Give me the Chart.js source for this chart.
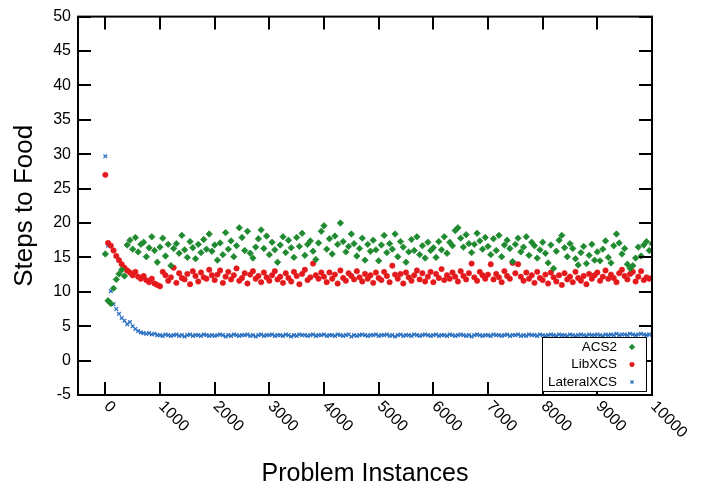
<!DOCTYPE html>
<html>
<head>
<meta charset="utf-8">
<script src="https://cdn.jsdelivr.net/npm/chart.js@4.4.1/dist/chart.umd.min.js"></script>
<style>
  html, body { margin: 0; padding: 0; background: #fff; }
  #wrap { width: 715px; height: 491px; }
</style>
</head>
<body>
<div id="wrap"><canvas id="steps-chart" width="715" height="491"></canvas></div>
<script>
// One sample every 50 problem instances, starting at 0
const STEP = 50;

const acs2 = [
  15.5, 8.7, 8.3, 10.5, 11.8, 12.6, 13.2, 12.3, 16.8, 17.5, 16.2, 17.9, 15.8, 16.9, 17.2, 15.1, 16.4, 18.0, 16.0, 14.3,
  16.5, 17.8, 15.2, 16.9, 13.8, 16.3, 17.0, 15.6, 18.2, 16.1, 15.0, 17.3, 16.4, 14.8, 16.9, 15.7, 17.6, 16.2, 18.4, 15.9,
  16.8, 14.6, 17.1, 15.4, 18.6, 16.2, 17.4, 15.1, 16.7, 19.3, 17.9, 16.0, 18.8, 15.6, 14.9, 16.5, 17.7, 19.0, 16.3, 18.1,
  15.4, 17.2, 16.1, 14.3, 16.8, 18.0, 15.7, 17.5, 16.4, 15.0, 17.9, 16.6, 18.5, 15.3, 16.9, 17.4, 15.9, 14.7, 17.1, 18.8,
  19.6, 16.2, 17.7, 15.5, 18.1, 16.9, 20.0, 17.3, 15.8, 16.6, 18.4, 17.0, 15.2, 16.3, 17.8, 14.6, 16.9, 15.9, 17.5, 16.1,
  14.5, 16.8, 18.2, 15.7, 17.0, 16.2, 18.4, 15.1, 17.3, 16.5, 14.3, 15.8, 17.6, 16.0, 18.0, 15.4, 16.7, 14.9, 17.2, 16.0,
  16.4, 15.0, 17.3, 16.1, 18.0, 15.6, 17.2, 16.7, 18.9, 19.3, 17.8, 16.5, 18.3, 17.0, 15.7, 16.9, 18.5, 17.4, 16.2, 17.9,
  16.6, 15.4, 17.7, 16.0, 18.2, 15.1, 16.8, 17.5, 16.3, 14.4, 16.9, 17.8, 15.8, 16.5, 18.0, 15.3, 17.2, 16.7, 14.9, 16.1,
  17.2, 15.6, 14.2, 16.8, 13.4, 15.9, 17.5, 18.2, 16.4, 15.1, 17.0, 16.3, 14.8, 13.9, 15.7, 16.6, 14.1, 15.3, 16.9, 14.6,
  15.8, 14.5, 16.2, 17.4, 15.0, 14.2, 16.7, 18.4, 17.1, 15.5, 16.3, 14.0, 13.4, 13.8, 14.9, 16.5, 15.2, 16.8, 17.3, 16.0,
  17.0
];

const libXcs = [
  27.0, 17.1, 16.7, 16.0, 15.2, 14.6, 14.0, 13.5, 13.1, 12.8, 12.4, 12.9, 12.2, 11.9, 12.3, 11.7, 11.4, 11.9, 11.2, 11.0,
  10.8, 12.9, 12.4, 11.6, 12.1, 13.5, 11.3, 12.7, 12.0, 11.8, 12.6, 11.1, 13.0, 12.3, 11.5, 12.8, 12.1, 11.9, 13.2, 12.4,
  11.7, 12.5, 13.1, 11.3, 12.2, 12.9, 11.8, 12.4, 13.4, 11.6, 12.0, 12.7, 11.2, 12.5, 13.0, 11.9, 12.3, 11.4, 12.8, 12.1,
  11.6, 12.4, 13.0, 11.8, 12.2, 11.3, 12.7, 12.0, 11.5, 12.9, 12.3, 11.1, 12.6, 13.2, 11.7, 12.1, 14.1, 12.4, 11.9, 12.8,
  12.2, 11.4, 12.8, 11.9, 12.5, 11.2, 13.1, 12.0, 11.6, 12.7, 12.3, 11.8, 13.0, 12.1, 11.5, 12.6, 11.9, 12.4, 11.3, 12.8,
  12.0, 11.7, 12.9, 12.3, 11.4, 13.8, 12.5, 11.9, 12.6, 11.2, 12.8, 12.1, 11.6, 12.4, 13.1, 11.8, 12.7, 11.5, 12.2, 12.9,
  11.4, 12.6, 12.0, 13.3, 11.7, 12.4, 11.9, 12.8, 12.2, 11.5, 13.0, 12.3, 11.8, 12.7, 14.1, 12.1, 11.6, 12.9, 12.4, 11.9,
  12.5, 14.0, 11.8, 12.6, 12.1, 11.4, 13.0, 12.3, 11.9, 14.2, 12.7, 14.0, 12.2, 11.6, 12.8, 11.9, 12.4, 11.3, 12.9, 12.0,
  11.7, 12.5, 11.2, 12.8, 12.1, 11.5, 12.4, 11.0, 12.7, 11.8, 12.2, 11.4, 12.9, 12.0, 11.6, 12.3, 11.1, 12.6, 11.9, 12.4,
  12.8, 11.6, 12.2, 13.1, 11.9, 12.5, 12.0, 11.4, 12.7, 13.2, 12.3, 11.8, 12.6, 12.9, 11.5, 12.2, 13.0, 11.7, 12.1, 11.9,
  12.0
];

const lateralXcs = [
  29.7, 16.7, 10.1, 8.2, 7.5, 6.8, 6.2, 5.8, 5.3, 5.6, 5.0, 4.6, 4.3, 4.1, 4.0, 3.9, 4.0, 3.8, 3.9, 3.7,
  3.7, 3.6, 3.8, 3.7, 3.6, 3.7, 3.8, 3.6, 3.7, 3.5, 3.7, 3.8, 3.6, 3.7, 3.7, 3.6, 3.8, 3.7, 3.6, 3.7,
  3.6, 3.7, 3.8, 3.7, 3.5, 3.7, 3.6, 3.8, 3.7, 3.6, 3.7, 3.7, 3.8, 3.6, 3.7, 3.5, 3.7, 3.8, 3.6, 3.7,
  3.7, 3.8, 3.6, 3.7, 3.7, 3.6, 3.8, 3.7, 3.5, 3.7, 3.6, 3.8, 3.7, 3.7, 3.6, 3.7, 3.8, 3.6, 3.7, 3.7,
  3.8, 3.6, 3.7, 3.7, 3.6, 3.8, 3.7, 3.6, 3.7, 3.8, 3.5, 3.7, 3.6, 3.7, 3.8, 3.7, 3.6, 3.7, 3.7, 3.8,
  3.6, 3.7, 3.7, 3.8, 3.6, 3.7, 3.5, 3.7, 3.8, 3.6, 3.7, 3.7, 3.6, 3.8, 3.7, 3.6, 3.7, 3.8, 3.7, 3.6,
  3.7, 3.8, 3.6, 3.7, 3.7, 3.6, 3.8, 3.7, 3.6, 3.7, 3.8, 3.7, 3.6, 3.7, 3.5, 3.7, 3.8, 3.7, 3.6, 3.7,
  3.7, 3.6, 3.8, 3.7, 3.7, 3.6, 3.7, 3.8, 3.6, 3.7, 3.7, 3.8, 3.6, 3.7, 3.6, 3.8, 3.7, 3.7, 3.6, 3.8,
  3.7, 3.6, 3.7, 3.8, 3.7, 3.6, 3.8, 3.7, 3.7, 3.6, 3.8, 3.7, 3.6, 3.7, 3.8, 3.7, 3.6, 3.8, 3.7, 3.7,
  3.8, 3.7, 3.6, 3.8, 3.7, 3.8, 3.7, 3.9, 3.7, 3.8, 3.8, 3.7, 3.9, 3.8, 3.7, 3.8, 3.9, 3.8, 3.7, 3.8,
  3.8
];

const seriesNames = ['ACS2', 'LibXCS', 'LateralXCS'];
const xTickValues = [0, 1000, 2000, 3000, 4000, 5000, 6000, 7000, 8000, 9000, 10000];
const xTickLabels = ['0', '1000', '2000', '3000', '4000', '5000', '6000', '7000', '8000', '9000', '10000'];
const yTickValues = [-5, 0, 5, 10, 15, 20, 25, 30, 35, 40, 45, 50];

const FONT = "'Liberation Sans', Arial, Helvetica, sans-serif";

function toPoints(values) {
    return values.map((v, i) => ({ x: i * STEP, y: v }));
}

const styles = [
    { color: '#1f8a30', pointStyle: 'rectRot', radius: 3.2, borderWidth: 0.8 },
    { color: '#e3191c', pointStyle: 'circle', radius: 2.7, borderWidth: 0.6 },
    { color: '#2a70c0', pointStyle: 'crossRot', radius: 2.6, borderWidth: 1.3 }
];

// gnuplot-like frame: inward ticks on all four sides, rotated x labels, boxed legend
const framePlugin = {
    id: 'frame',
    afterDraw(chart) {
        const ctx = chart.ctx;
        const area = chart.chartArea;
        const xs = chart.scales.x;
        const ys = chart.scales.y;
        const tickLen = 13;

        ctx.save();
        ctx.strokeStyle = '#000';
        ctx.lineWidth = 2;

        ctx.beginPath();
        xTickValues.forEach(v => {
            const px = Math.round(xs.getPixelForValue(v));
            ctx.moveTo(px, area.bottom);
            ctx.lineTo(px, area.bottom - tickLen);
            ctx.moveTo(px, area.top);
            ctx.lineTo(px, area.top + tickLen);
        });
        yTickValues.forEach(v => {
            const py = Math.round(ys.getPixelForValue(v));
            ctx.moveTo(area.left, py);
            ctx.lineTo(area.left + tickLen, py);
            ctx.moveTo(area.right, py);
            ctx.lineTo(area.right - tickLen, py);
        });
        ctx.stroke();

        ctx.strokeRect(area.left, area.top, area.right - area.left, area.bottom - area.top);

        // x tick labels, turned 45 degrees clockwise
        ctx.fillStyle = '#000';
        ctx.font = '16px ' + FONT;
        ctx.textAlign = 'left';
        ctx.textBaseline = 'middle';
        xTickValues.forEach((v, i) => {
            const px = xs.getPixelForValue(v);
            ctx.save();
            ctx.translate(px + 1, area.bottom + 9);
            ctx.rotate(Math.PI / 4);
            ctx.fillText(xTickLabels[i], 0, 0);
            ctx.restore();
        });

        // legend box in the lower right corner
        const box = { left: 542, top: 337, width: 104, height: 54 };
        ctx.fillStyle = '#fff';
        ctx.fillRect(box.left, box.top, box.width, box.height);
        ctx.lineWidth = 1;
        ctx.strokeRect(box.left + 0.5, box.top + 0.5, box.width, box.height);

        ctx.font = '13.5px ' + FONT;
        ctx.textAlign = 'right';
        ctx.textBaseline = 'middle';
        seriesNames.forEach((name, i) => {
            const rowY = box.top + 10 + i * 17.5;
            ctx.fillStyle = '#000';
            ctx.fillText(name, 617, rowY);
            const st = styles[i];
            ctx.fillStyle = st.color;
            ctx.strokeStyle = st.color;
            ctx.lineWidth = st.borderWidth;
            Chart.helpers.drawPoint(ctx, {
                pointStyle: st.pointStyle,
                radius: st.radius * 0.85,
                borderWidth: st.borderWidth,
                rotation: 0
            }, 632, rowY);
        });
        ctx.restore();
    }
};

function buildChart() {
    const ctx = document.getElementById('steps-chart').getContext('2d');
    const datasets = [acs2, libXcs, lateralXcs].map((values, i) => ({
        label: seriesNames[i],
        data: toPoints(values),
        showLine: false,
        pointStyle: styles[i].pointStyle,
        pointRadius: styles[i].radius,
        pointBorderWidth: styles[i].borderWidth,
        backgroundColor: styles[i].color,
        borderColor: styles[i].color
    }));

    return new Chart(ctx, {
        type: 'scatter',
        data: { datasets: datasets },
        options: {
            responsive: false,
            animation: false,
            layout: { padding: { top: 10, right: 63, bottom: 0, left: 0 } },
            plugins: {
                legend: { display: false },
                tooltip: { enabled: false }
            },
            scales: {
                x: {
                    type: 'linear',
                    min: -500,
                    max: 10000,
                    grid: { display: false },
                    border: { display: false },
                    ticks: { display: false },
                    title: {
                        display: true,
                        text: 'Problem Instances',
                        color: '#000',
                        font: { family: FONT, size: 25 },
                        padding: { top: 0, bottom: 2 }
                    },
                    afterFit(scale) { scale.height = 96; }
                },
                y: {
                    min: -5,
                    max: 50,
                    grid: { display: false, drawTicks: false },
                    border: { display: false },
                    ticks: {
                        stepSize: 5,
                        padding: 7,
                        color: '#000',
                        font: { family: FONT, size: 16 }
                    },
                    title: {
                        display: true,
                        text: 'Steps to Food',
                        color: '#000',
                        font: { family: FONT, size: 26 },
                        padding: { top: 9, bottom: 0 }
                    },
                    afterFit(scale) { scale.width = 78; }
                }
            }
        },
        plugins: [framePlugin]
    });
}

buildChart();
</script>
</body>
</html>
